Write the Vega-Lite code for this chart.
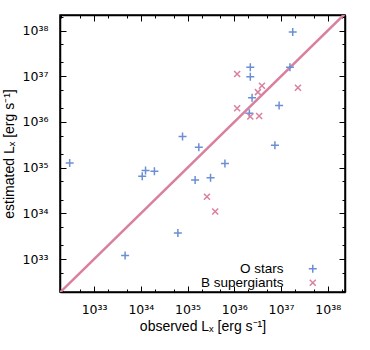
{
  "$schema": "https://vega.github.io/schema/vega-lite/v6.json",
  "width": 285,
  "height": 277,
  "autosize": "none",
  "padding": {"left": 60, "top": 15, "right": 25, "bottom": 58},
  "background": "white",
  "config": {
    "font": "Liberation Sans",
    "view": {"stroke": "black", "strokeWidth": 1.5},
    "axis": {
      "grid": false,
      "domainColor": "black",
      "domainWidth": 1.5,
      "tickColor": "black",
      "tickWidth": 1,
      "labelColor": "black",
      "titleColor": "black",
      "labelFont": "DejaVu Sans",
      "titleFont": "Liberation Sans",
      "labelFontSize": 12.5,
      "titleFontSize": 14,
      "titleFontWeight": "normal"
    }
  },
  "datasets": {
    "diag": [{"v": 1e32}, {"v": 1e39}],
    "stars": [
      {"group": "O stars", "observed": 3.0e32, "estimated": 1.26e35},
      {"group": "O stars", "observed": 4.6e33, "estimated": 1.2e33},
      {"group": "O stars", "observed": 1.07e34, "estimated": 6.5e34},
      {"group": "O stars", "observed": 1.26e34, "estimated": 8.7e34},
      {"group": "O stars", "observed": 1.95e34, "estimated": 8.3e34},
      {"group": "O stars", "observed": 6.2e34, "estimated": 3.7e33},
      {"group": "O stars", "observed": 7.8e34, "estimated": 4.8e35},
      {"group": "O stars", "observed": 1.45e35, "estimated": 5.4e34},
      {"group": "O stars", "observed": 1.74e35, "estimated": 2.8e35},
      {"group": "O stars", "observed": 3.1e35, "estimated": 6.0e34},
      {"group": "O stars", "observed": 6.3e35, "estimated": 1.23e35},
      {"group": "O stars", "observed": 2.2e36, "estimated": 1.58e37},
      {"group": "O stars", "observed": 2.2e36, "estimated": 9.8e36},
      {"group": "O stars", "observed": 2.4e36, "estimated": 3.4e36},
      {"group": "O stars", "observed": 2.1e36, "estimated": 1.55e36},
      {"group": "O stars", "observed": 7.4e36, "estimated": 3.1e35},
      {"group": "O stars", "observed": 9.1e36, "estimated": 2.3e36},
      {"group": "O stars", "observed": 1.55e37, "estimated": 1.58e37},
      {"group": "O stars", "observed": 1.78e37, "estimated": 9.3e37},
      {"group": "B supergiants", "observed": 1.15e36, "estimated": 1.12e37},
      {"group": "B supergiants", "observed": 1.15e36, "estimated": 2.0e36},
      {"group": "B supergiants", "observed": 2.2e36, "estimated": 1.32e36},
      {"group": "B supergiants", "observed": 3.4e36, "estimated": 1.35e36},
      {"group": "B supergiants", "observed": 3.2e36, "estimated": 4.5e36},
      {"group": "B supergiants", "observed": 3.9e36, "estimated": 6.2e36},
      {"group": "B supergiants", "observed": 2.3e37, "estimated": 5.6e36},
      {"group": "B supergiants", "observed": 2.6e35, "estimated": 2.3e34},
      {"group": "B supergiants", "observed": 3.9e35, "estimated": 1.1e34}
    ]
  },
  "layer": [
    {
      "data": {"name": "diag"},
      "mark": {"type": "line", "color": "#d9809f", "strokeWidth": 2.5, "clip": true},
      "encoding": {
        "x": {
          "field": "v", "type": "quantitative",
          "scale": {"type": "log", "domain": [1.86e32, 2.34e38], "nice": false},
          "axis": {
            "orient": "bottom",
            "title": "observed Lₓ [erg s⁻¹]",
            "titlePadding": 4,
            "labelPadding": 17,
            "values": [2e32, 5e32, 1e33, 2e33, 5e33, 1e34, 2e34, 5e34, 1e35, 2e35, 5e35, 1e36, 2e36, 5e36, 1e37, 2e37, 5e37, 1e38, 2e38],
            "tickSize": {"condition": {"test": "abs(log(datum.value)/LN10 - round(log(datum.value)/LN10)) < 0.01", "value": -6}, "value": -3},
            "labelExpr": "abs(log(datum.value)/LN10 - round(log(datum.value)/LN10)) < 0.01 ? '10' + replace(replace(replace(replace(replace(replace(replace(format(round(log(datum.value)/LN10), 'd'), '3', '³'), '3', '³'), '4', '⁴'), '5', '⁵'), '6', '⁶'), '7', '⁷'), '8', '⁸') : ''"
          }
        },
        "y": {
          "field": "v", "type": "quantitative",
          "scale": {"type": "log", "domain": [1.9e32, 2.19e38], "nice": false},
          "axis": {
            "orient": "left",
            "title": "estimated Lₓ [erg s⁻¹]",
            "titlePadding": 6,
            "labelPadding": 18,
            "values": [2e32, 5e32, 1e33, 2e33, 5e33, 1e34, 2e34, 5e34, 1e35, 2e35, 5e35, 1e36, 2e36, 5e36, 1e37, 2e37, 5e37, 1e38, 2e38],
            "tickSize": {"condition": {"test": "abs(log(datum.value)/LN10 - round(log(datum.value)/LN10)) < 0.01", "value": -6}, "value": -3},
            "labelExpr": "abs(log(datum.value)/LN10 - round(log(datum.value)/LN10)) < 0.01 ? '10' + replace(replace(replace(replace(replace(replace(replace(format(round(log(datum.value)/LN10), 'd'), '3', '³'), '3', '³'), '4', '⁴'), '5', '⁵'), '6', '⁶'), '7', '⁷'), '8', '⁸') : ''"
          }
        }
      }
    },
    {
      "data": {"name": "stars"},
      "mark": {"type": "point", "filled": false, "strokeWidth": 1.5, "size": 64, "opacity": 1},
      "encoding": {
        "x": {
          "field": "observed", "type": "quantitative",
          "scale": {"type": "log", "domain": [1.86e32, 2.34e38], "nice": false},
          "axis": {
            "orient": "top", "title": null, "labels": false,
            "values": [2e32, 5e32, 1e33, 2e33, 5e33, 1e34, 2e34, 5e34, 1e35, 2e35, 5e35, 1e36, 2e36, 5e36, 1e37, 2e37, 5e37, 1e38, 2e38],
            "tickSize": {"condition": {"test": "abs(log(datum.value)/LN10 - round(log(datum.value)/LN10)) < 0.01", "value": -6}, "value": -3}
          }
        },
        "y": {
          "field": "estimated", "type": "quantitative",
          "scale": {"type": "log", "domain": [1.9e32, 2.19e38], "nice": false},
          "axis": {
            "orient": "right", "title": null, "labels": false,
            "values": [2e32, 5e32, 1e33, 2e33, 5e33, 1e34, 2e34, 5e34, 1e35, 2e35, 5e35, 1e36, 2e36, 5e36, 1e37, 2e37, 5e37, 1e38, 2e38],
            "tickSize": {"condition": {"test": "abs(log(datum.value)/LN10 - round(log(datum.value)/LN10)) < 0.01", "value": -6}, "value": -3}
          }
        },
        "color": {
          "field": "group", "type": "nominal",
          "scale": {"domain": ["O stars", "B supergiants"], "range": ["#6b8fd4", "#d9809f"]},
          "legend": {
            "orient": "none", "legendX": 246, "legendY": 247, "title": null,
            "labelAlign": "right", "labelOffset": -36, "labelFontSize": 13.5,
            "labelColor": "black", "labelFont": "Liberation Sans",
            "symbolSize": 64, "symbolStrokeWidth": 1.5, "rowPadding": -2, "padding": 0
          }
        },
        "shape": {
          "field": "group", "type": "nominal",
          "scale": {"domain": ["O stars", "B supergiants"], "range": ["M-1,0L1,0M0,-1L0,1", "M-0.75,-0.75L0.75,0.75M-0.75,0.75L0.75,-0.75"]},
          "legend": {
            "orient": "none", "legendX": 246, "legendY": 247, "title": null,
            "labelAlign": "right", "labelOffset": -36, "labelFontSize": 13.5,
            "labelColor": "black", "labelFont": "Liberation Sans",
            "symbolSize": 64, "symbolStrokeWidth": 1.5, "rowPadding": -2, "padding": 0
          }
        }
      }
    }
  ],
  "resolve": {"axis": {"x": "independent", "y": "independent"}}
}
